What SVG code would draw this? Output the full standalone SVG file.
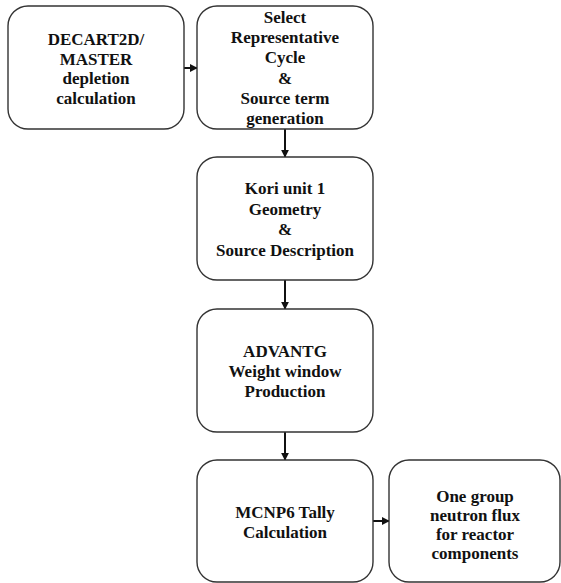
<svg xmlns="http://www.w3.org/2000/svg" width="561" height="583" viewBox="0 0 561 583">
<defs>
<style>
.box{fill:#fff;stroke:#333;stroke-width:1.4}
.t{font-family:'Liberation Serif','Times New Roman','DejaVu Serif',Times,serif;font-weight:700;font-size:17px;fill:#111;text-anchor:middle}
.c{stroke:#111;stroke-width:2;fill:none}
</style>
<marker id="ah" viewBox="0 0 10 10" refX="9" refY="5" markerWidth="4" markerHeight="4" orient="auto" markerUnits="strokeWidth">
<path d="M0,0 L10,5 L0,10 z" fill="#111"/>
</marker>
</defs>
<rect width="561" height="583" fill="#fff"/>
<g id="connectors">
<line class="c" x1="184" y1="68" x2="197" y2="68" marker-end="url(#ah)"/>
<line class="c" x1="285" y1="129" x2="285" y2="157" marker-end="url(#ah)"/>
<line class="c" x1="285" y1="280" x2="285" y2="309" marker-end="url(#ah)"/>
<line class="c" x1="285" y1="432" x2="285" y2="460" marker-end="url(#ah)"/>
<line class="c" x1="373" y1="521" x2="389" y2="521" marker-end="url(#ah)"/>
</g>
<g id="decart">
<rect class="box" x="8" y="6" width="176" height="123" rx="20"/>
<text class="t" x="96" y="45">DECART2D/</text>
<text class="t" x="96" y="65">MASTER</text>
<text class="t" x="96" y="84">depletion</text>
<text class="t" x="96" y="104">calculation</text>
</g>
<g id="select">
<rect class="box" x="197" y="6" width="176" height="123" rx="20"/>
<text class="t" x="285" y="23">Select</text>
<text class="t" x="285" y="43">Representative</text>
<text class="t" x="285" y="63">Cycle</text>
<text class="t" x="285" y="84">&amp;</text>
<text class="t" x="285" y="104">Source term</text>
<text class="t" x="285" y="124">generation</text>
</g>
<g id="kori">
<rect class="box" x="197" y="157" width="176" height="123" rx="20"/>
<text class="t" x="285" y="194">Kori unit 1</text>
<text class="t" x="285" y="215">Geometry</text>
<text class="t" x="285" y="235">&amp;</text>
<text class="t" x="285" y="256">Source Description</text>
</g>
<g id="advantg">
<rect class="box" x="197" y="309" width="176" height="123" rx="20"/>
<text class="t" x="285" y="357">ADVANTG</text>
<text class="t" x="285" y="377">Weight window</text>
<text class="t" x="285" y="397">Production</text>
</g>
<g id="mcnp6">
<rect class="box" x="197" y="460" width="176" height="122" rx="20"/>
<text class="t" x="285" y="518">MCNP6 Tally</text>
<text class="t" x="285" y="538">Calculation</text>
</g>
<g id="flux">
<rect class="box" x="389" y="460" width="171" height="122" rx="20"/>
<text class="t" x="475" y="502">One group</text>
<text class="t" x="475" y="521">neutron flux</text>
<text class="t" x="475" y="540">for reactor</text>
<text class="t" x="475" y="559">components</text>
</g>
</svg>
